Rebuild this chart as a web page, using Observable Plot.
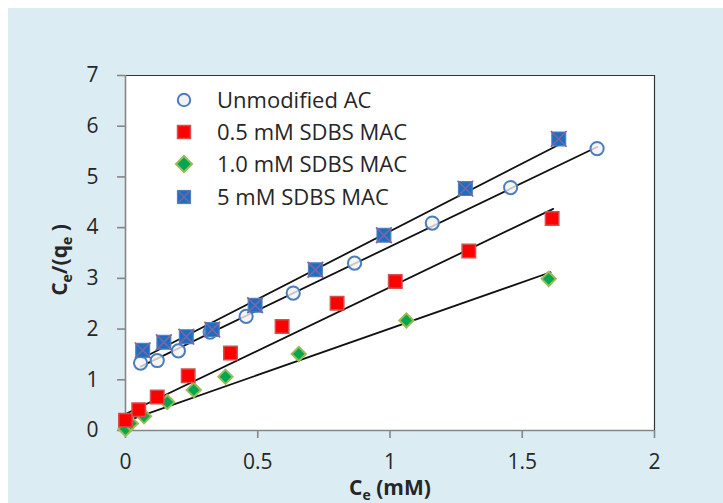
<!DOCTYPE html>
<html>
<head>
<meta charset="utf-8">
<script src="https://cdn.jsdelivr.net/npm/d3@7"></script>
<script src="https://cdn.jsdelivr.net/npm/@observablehq/plot@0.6"></script>
<style>
  html, body { margin: 0; padding: 0; background: #ffffff; }
  #wrap { position: relative; width: 723px; height: 503px; overflow: hidden; }
  #bg { position: absolute; left: 8px; top: 8px; width: 715px; height: 495px; background: #dbedf3; }
  #chart { position: absolute; left: 0; top: 0; }
</style>
</head>
<body>
<div id="wrap"><div id="bg"></div><div id="chart"></div></div>
<script>
// ---- data ----
const seriesNames = ["Unmodified AC", "0.5 mM SDBS MAC", "1.0 mM SDBS MAC", "5 mM SDBS MAC"];

const unmodX = [0.057, 0.12, 0.20, 0.32, 0.456, 0.634, 0.866, 1.16, 1.456, 1.783];
const unmodY = [1.33, 1.38, 1.57, 1.94, 2.25, 2.71, 3.30, 4.09, 4.79, 5.56];

const sdbs05X = [0.0, 0.05, 0.12, 0.237, 0.397, 0.592, 0.80, 1.02, 1.298, 1.613];
const sdbs05Y = [0.20, 0.41, 0.66, 1.08, 1.53, 2.05, 2.51, 2.94, 3.54, 4.18];

const sdbs10X = [0.0, 0.02, 0.07, 0.158, 0.258, 0.378, 0.655, 1.062, 1.60];
const sdbs10Y = [0.03, 0.14, 0.28, 0.56, 0.80, 1.06, 1.51, 2.17, 2.99];

const sdbs5X = [0.065, 0.145, 0.23, 0.328, 0.49, 0.718, 0.977, 1.285, 1.638];
const sdbs5Y = [1.58, 1.74, 1.85, 1.99, 2.47, 3.17, 3.85, 4.77, 5.75];

// linear trend lines (start/end), one per series in seriesNames order
const fitX0 = [0.057, 0.006, 0.0, 0.065];
const fitY0 = [1.26, 0.34, 0.18, 1.43];
const fitX1 = [1.783, 1.617, 1.607, 1.644];
const fitY1 = [5.59, 4.37, 3.12, 5.65];

const xTicks = [0, 0.5, 1, 1.5, 2];
const yTicks = [0, 1, 2, 3, 4, 5, 6, 7];

// ---- build tables ----
const zip = (xs, ys) => xs.map((x, i) => ({x, y: ys[i]}));
const unmod = zip(unmodX, unmodY);
const s05 = zip(sdbs05X, sdbs05Y);
const s10 = zip(sdbs10X, sdbs10Y);
const s5 = zip(sdbs5X, sdbs5Y);
const fits = seriesNames.flatMap((s, i) => [
  {s, x: fitX0[i], y: fitY0[i]},
  {s, x: fitX1[i], y: fitY1[i]}
]);

const FONT = "'Open Sans', Lato, sans-serif";
const axisGray = "#868686";
const textCol = "#262626";
const FS = 21;
const LFS = 22;

const plot = Plot.plot({
  width: 723,
  height: 503,
  marginLeft: 125,
  marginRight: 69,
  marginTop: 75,
  marginBottom: 73,
  style: {background: "transparent", fontFamily: FONT, fontSize: FS + "px", color: textCol},
  x: {domain: [0, 2], ticks: xTicks, tickFormat: d => String(d), label: null},
  y: {domain: [0, 7], ticks: yTicks, tickFormat: d => String(d), label: null},
  marks: [
    Plot.frame({fill: "white", stroke: null}),
    Plot.ruleY([7], {stroke: "#333333", strokeWidth: 1.2}),
    Plot.ruleX([2], {stroke: "#333333", strokeWidth: 1.2}),
    Plot.ruleX([0], {stroke: axisGray, strokeWidth: 1.6}),
    Plot.ruleY([0], {stroke: axisGray, strokeWidth: 1.6}),
    Plot.axisX({ticks: xTicks, tickFormat: d => String(d), tickSize: 8, tickPadding: 16, stroke: axisGray, strokeWidth: 1.6, fill: textCol, fontSize: FS, label: null}),
    Plot.axisY({ticks: yTicks, tickFormat: d => String(d), tickSize: 8, tickPadding: 19, stroke: axisGray, strokeWidth: 1.6, fill: textCol, fontSize: FS, label: null}),
    Plot.line(fits, {x: "x", y: "y", z: "s", stroke: "#111111", strokeWidth: 1.8}),
    Plot.dot(s10, {x: "x", y: "y", symbol: "diamond2", r: 6.4, fill: "#00a650", stroke: "#9bbb59", strokeWidth: 2}),
    Plot.dot(s05, {x: "x", y: "y", symbol: "square", r: 7.6, fill: "#ff0000", stroke: "#d0514f", strokeWidth: 1.5}),
    Plot.dot(unmod, {x: "x", y: "y", symbol: "circle", r: 6.6, fill: "#f2f2f2", fillOpacity: 0.8, stroke: "#4a7ebb", strokeWidth: 2}),
    Plot.dot(s5, {x: "x", y: "y", symbol: "square", r: 7.8, fill: "#1b6ec2", stroke: "#4f81bd", strokeWidth: 1.2}),
    Plot.dot(s5, {x: "x", y: "y", symbol: "times", r: 7.2, stroke: "#8064a2", strokeWidth: 1.6})
  ]
});

document.getElementById("chart").appendChild(plot);

// ---- legend, axis titles ----
const svg = d3.select(plot);
const legendMarks = ["circle", "square", "diamond", "xsquare"];
const rowY = [100, 132, 164, 197];
const g = svg.append("g").attr("text-anchor", "start");
seriesNames.forEach((name, i) => {
  const cy = rowY[i], cx = 184;
  const t = legendMarks[i];
  if (t === "circle") {
    g.append("circle").attr("cx", cx).attr("cy", cy).attr("r", 6.2)
      .attr("fill", "#f2f2f2").attr("stroke", "#4a7ebb").attr("stroke-width", 2);
  } else if (t === "square") {
    g.append("rect").attr("x", cx - 6.5).attr("y", cy - 6.5).attr("width", 13).attr("height", 13)
      .attr("fill", "#ff0000").attr("stroke", "#d0514f").attr("stroke-width", 1.5);
  } else if (t === "diamond") {
    g.append("path").attr("d", `M${cx},${cy-8}L${cx+8},${cy}L${cx},${cy+8}L${cx-8},${cy}Z`)
      .attr("fill", "#00a650").attr("stroke", "#9bbb59").attr("stroke-width", 2);
  } else {
    g.append("rect").attr("x", cx - 6.5).attr("y", cy - 6.5).attr("width", 13).attr("height", 13)
      .attr("fill", "#1b6ec2").attr("stroke", "#4f81bd").attr("stroke-width", 1.2);
    g.append("path").attr("d", `M${cx-5.5},${cy-5.5}L${cx+5.5},${cy+5.5}M${cx+5.5},${cy-5.5}L${cx-5.5},${cy+5.5}`)
      .attr("stroke", "#8064a2").attr("stroke-width", 1.6);
  }
  g.append("text").attr("x", 217).attr("y", cy).attr("dy", "0.35em").attr("text-anchor", "start")
    .attr("font-family", FONT).attr("font-size", LFS).attr("fill", textCol).text(name);
});

// x-axis title: C_e (mM)
const xt = svg.append("text").attr("x", 390).attr("y", 495).attr("text-anchor", "middle")
  .attr("font-family", FONT).attr("font-size", FS).attr("font-weight", "bold").attr("fill", textCol);
xt.append("tspan").text("C");
xt.append("tspan").attr("dy", 5).attr("font-size", 14).text("e");
xt.append("tspan").attr("dy", -5).text(" (mM)");

// y-axis title: C_e/(q_e )
const yt = svg.append("text").attr("transform", "translate(67,260) rotate(-90)").attr("text-anchor", "middle")
  .attr("font-family", FONT).attr("font-size", FS).attr("font-weight", "bold").attr("fill", textCol);
yt.append("tspan").text("C");
yt.append("tspan").attr("dy", 5).attr("font-size", 14).text("e");
yt.append("tspan").attr("dy", -5).text("/(q");
yt.append("tspan").attr("dy", 5).attr("font-size", 14).text("e");
yt.append("tspan").attr("dy", -5).text(" )");
</script>
</body>
</html>
